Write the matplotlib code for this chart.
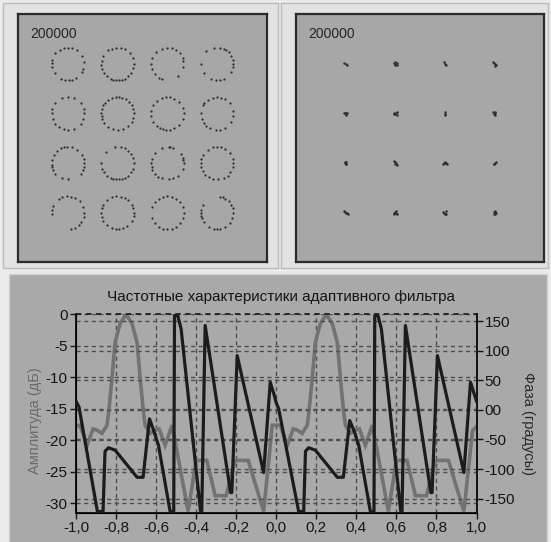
import matplotlib
matplotlib.use("Agg")
import matplotlib.pyplot as plt
from matplotlib.patches import Rectangle
import numpy as np

W, H, DPI = 551, 542, 100

# ------------------------------------------------------------------ data
panel_label = "200000"
ring_centers_x = [-3, -1, 1, 3]
ring_centers_y = [3, 1, -1, -3]
ring_radius = 0.66
# angles (deg) of dots on each ring, row by row (top row first)
ring_angles = [
    [5, 30, 55, 75, 90, 105, 120, 140, 165, 178, 190, 215, 245, 258, 272, 285, 300, 330, 340],
    [0, 20, 40, 62, 80, 95, 110, 125, 150, 170, 185, 200, 215, 230, 245, 255, 265, 275, 285, 295, 310, 325, 345],
    [10, 20, 40, 60, 75, 90, 110, 135, 160, 180, 200, 220, 240, 250, 310, 350],
    [0, 15, 30, 45, 55, 65, 80, 100, 130, 180, 215, 250, 265, 280, 295, 330, 350],
    [0, 15, 40, 70, 90, 110, 140, 165, 180, 200, 220, 235, 255, 270, 290, 320, 340],
    [0, 15, 30, 45, 60, 75, 85, 95, 110, 125, 140, 150, 165, 180, 190, 200, 215, 235, 255, 270, 290, 310, 330, 345],
    [0, 20, 45, 65, 80, 95, 110, 130, 150, 170, 190, 210, 230, 245, 255, 265, 280, 295, 315, 340],
    [10, 40, 60, 75, 90, 105, 125, 140, 150, 180, 200, 215, 230, 245, 265, 280, 300, 330, 350],
    [0, 15, 30, 55, 75, 95, 105, 115, 130, 150, 170, 185, 195, 205, 220, 250, 270, 320, 335, 345],
    [0, 20, 35, 50, 65, 80, 100, 135, 180, 200, 215, 230, 245, 255, 265, 275, 285, 295, 310, 325, 340],
    [0, 10, 20, 35, 70, 80, 85, 110, 140, 165, 180, 195, 205, 220, 235, 250, 275, 290, 310, 340],
    [0, 15, 40, 60, 75, 90, 105, 125, 150, 165, 180, 195, 210, 225, 240, 255, 275, 295, 310, 325, 345],
    [0, 20, 45, 65, 80, 95, 110, 125, 155, 170, 185, 280, 295, 310, 325, 345],
    [0, 15, 30, 50, 65, 80, 95, 110, 130, 150, 165, 180, 195, 210, 230, 250, 265, 275, 290, 305, 330, 350],
    [0, 20, 40, 60, 75, 90, 105, 120, 140, 160, 200, 220, 240, 255, 270, 285, 300, 320, 340],
    [0, 15, 30, 45, 60, 70, 80, 150, 170, 180, 190, 200, 215, 240, 260, 270, 280, 300, 320, 340],
]
# small clusters of the converged constellation (offsets from ideal points)
cluster_offsets = [
    [(-0.05, 0.05), (0.03, 0.0), (0.07, -0.05)],
    [(-0.06, 0.02), (0.0, 0.06), (0.05, 0.02), (0.0, -0.03), (0.06, -0.04), (-0.03, -0.02)],
    [(-0.02, 0.06), (0.02, -0.02), (0.04, -0.06)],
    [(-0.06, 0.07), (-0.02, 0.03), (0.03, 0.0), (0.05, -0.05), (0.0, -0.07)],
    [(-0.06, 0.0), (-0.02, 0.02), (0.02, 0.0), (0.05, 0.01), (0.0, -0.05)],
    [(0.05, 0.08), (0.01, 0.04), (-0.04, 0.0), (-0.07, -0.03), (0.0, -0.04), (0.05, -0.05)],
    [(0.0, 0.05), (0.0, -0.04), (0.02, -0.07)],
    [(-0.05, 0.06), (0.03, 0.07), (0.0, 0.02), (-0.02, -0.03), (0.03, -0.06)],
    [(-0.03, 0.06), (0.03, 0.04), (-0.02, 0.0), (0.03, -0.02), (0.0, -0.05)],
    [(-0.06, 0.08), (-0.03, 0.03), (0.02, 0.01), (0.0, -0.04), (0.05, -0.07)],
    [(-0.07, -0.05), (-0.03, 0.02), (0.0, 0.06), (0.03, 0.02), (0.07, -0.05), (0.0, 0.0)],
    [(0.04, 0.06), (0.02, 0.02), (-0.01, -0.02), (-0.04, -0.05)],
    [(-0.08, 0.07), (-0.04, 0.03), (0.0, 0.0), (0.04, -0.03), (0.08, -0.06)],
    [(0.02, 0.08), (0.0, 0.03), (-0.04, -0.02), (0.02, -0.02), (-0.06, -0.06), (0.05, -0.05)],
    [(-0.06, 0.02), (-0.02, 0.0), (0.03, 0.05), (0.02, -0.05), (0.05, -0.07)],
    [(-0.04, 0.04), (0.02, 0.05), (0.0, 0.0), (0.04, -0.02), (-0.03, -0.04), (0.03, -0.06)],
]

title = "Частотные характеристики адаптивного фильтра"
amp_label = "Амплитуда (дБ)"
phase_label = "Фаза (градусы)"

freq_amp = [-1.000, -0.980, -0.945, -0.915, -0.895, -0.870, -0.845, -0.835, -0.820, -0.805,
            -0.780, -0.750, -0.720, -0.695, -0.680, -0.665, -0.655, -0.630, -0.605, -0.585,
            -0.555, -0.520, -0.440, -0.400, -0.347, -0.305, -0.250, -0.205, -0.140, -0.063,
            -0.020, 0.020, 0.055, 0.085, 0.105, 0.130, 0.155, 0.165, 0.180, 0.195,
            0.220, 0.250, 0.280, 0.305, 0.320, 0.335, 0.345, 0.370, 0.395, 0.415,
            0.445, 0.480, 0.560, 0.600, 0.653, 0.695, 0.750, 0.795, 0.860, 0.937,
            0.980, 1.000]
amp_db = [-17.8, -17.6, -20.8, -18.2, -18.4, -18.9, -17.6, -15.0, -10.0, -4.5,
          -1.5, 0.0, -1.5, -4.5, -10.0, -15.0, -17.6, -18.9, -18.4, -18.2,
          -20.8, -17.6, -31.3, -23.2, -23.2, -28.8, -28.8, -23.2, -23.2, -31.3,
          -17.6, -17.6, -20.8, -18.2, -18.4, -18.9, -17.6, -15.0, -10.0, -4.5,
          -1.5, 0.0, -1.5, -4.5, -10.0, -15.0, -17.6, -18.9, -18.4, -18.2,
          -20.8, -17.6, -31.3, -23.2, -23.2, -28.8, -28.8, -23.2, -23.2, -31.3,
          -18.5, -17.8]

freq_phase = [-1.000, -0.985, -0.893, -0.865, -0.855, -0.838, -0.805, -0.695, -0.665, -0.633,
              -0.612, -0.588, -0.530, -0.512, -0.508, -0.492, -0.475, -0.378, -0.372, -0.355,
              -0.228, -0.222, -0.195, -0.063, -0.030, -0.010,
              0.000, 0.012, 0.112, 0.137, 0.146, 0.162, 0.195, 0.305, 0.335, 0.367,
              0.388, 0.412, 0.470, 0.488, 0.492, 0.508, 0.525, 0.622, 0.628, 0.645,
              0.772, 0.778, 0.805, 0.937, 0.970, 1.000]
phase_deg = [15, 5, -172, -172, -70, -64, -68, -114, -114, -15,
             -35, -60, -172, -172, 160, 160, 137, -172, -172, 143,
             -140, -140, 92, -106, 47, 25,
             12, 2, -172, -172, -70, -64, -68, -114, -114, -18,
             -35, -60, -172, -172, 160, 160, 137, -172, -172, 143,
             -140, -140, 92, -106, 47, 15]

x_ticks = [-1.0, -0.8, -0.6, -0.4, -0.2, 0.0, 0.2, 0.4, 0.6, 0.8, 1.0]
x_tick_labels = ["-1,0", "-0,8", "-0,6", "-0,4", "-0,2", "0,0", "0,2", "0,4", "0,6", "0,8", "1,0"]
amp_ticks = [0, -5, -10, -15, -20, -25, -30]
amp_tick_labels = ["0", "-5", "-10", "-15", "-20", "-25", "-30"]
phase_ticks = [150, 100, 50, 0, -50, -100, -150]
phase_tick_labels = ["150", "100", "50", "00", "-50", "-100", "-150"]

# ------------------------------------------------------------------ style
FONT = ["Liberation Sans", "DejaVu Sans"]
plt.rcParams['font.family'] = FONT
LIGHT = "#e3e3e3"
PLOTBG = "#a7a7a7"
DOT = "#2e2e2e"
GRAY_LINE = "#727272"
DARK_LINE = "#1c1c1c"
TXT = "#151515"

fig = plt.figure(figsize=(W / DPI, H / DPI), dpi=DPI, facecolor="#ebebeb")


def px_rect(x0, y0, x1, y1, **kw):
    r = Rectangle((x0 / W, 1 - y1 / H), (x1 - x0) / W, (y1 - y0) / H,
                  transform=fig.transFigure, **kw)
    fig.add_artist(r)
    return r


def px_axes(x0, y0, x1, y1):
    return fig.add_axes([x0 / W, 1 - y1 / H, (x1 - x0) / W, (y1 - y0) / H])


# panel frames
px_rect(3, 3, 278, 267.5, facecolor=LIGHT, edgecolor="#bcbcbc", lw=1.0, zorder=0)
px_rect(281.5, 3, 548, 267.5, facecolor=LIGHT, edgecolor="#bcbcbc", lw=1.0, zorder=0)
px_rect(9, 274, 547, 545, facecolor="#a9a9a9", edgecolor="#d0d0d0", lw=1.0, zorder=0)


def constellation_axes(x0, x1):
    ax = px_axes(x0, 14.3, x1, 262.3)
    ax.set_facecolor(PLOTBG)
    ax.set_xlim(-5, 5)
    ax.set_ylim(-5, 5)
    ax.set_xticks([])
    ax.set_yticks([])
    for s in ax.spines.values():
        s.set_color("#2a2a2a")
        s.set_linewidth(1.6)
    ax.text(0.05, 0.95, panel_label, transform=ax.transAxes, ha="left", va="top",
            fontsize=10, color="#262626")
    return ax


# ---- top-left: rings
ax1 = constellation_axes(18.3, 266.7)
k = 0
for cy in ring_centers_y:
    for cx in ring_centers_x:
        a = np.deg2rad(np.array(ring_angles[k], dtype=float))
        ax1.scatter(cx + ring_radius * np.cos(a), cy + ring_radius * np.sin(a),
                    s=2.6, c=DOT, linewidths=0)
        k += 1

# ---- top-right: clusters
ax2 = constellation_axes(296, 544.3)
k = 0
for cy in ring_centers_y:
    for cx in ring_centers_x:
        off = np.array(cluster_offsets[k])
        ax2.scatter(cx + off[:, 0], cy + off[:, 1], s=3.2, c=DOT, linewidths=0)
        k += 1

# ---- bottom: frequency response
ax3 = px_axes(76, 314.3, 476.5, 512.7)
ax3.set_facecolor("#a9a9a9")
ax3.set_xlim(-1.0, 1.0)
ax3.set_ylim(-31.5, 0)
ax3.plot(freq_amp, amp_db, color=GRAY_LINE, lw=2.6, solid_joinstyle="miter", zorder=3)
ax3.set_xticks(x_ticks)
ax3.set_xticklabels(x_tick_labels)
ax3.set_yticks(amp_ticks)
ax3.set_yticklabels(amp_tick_labels)
ax3.tick_params(axis="both", labelsize=11, colors=TXT, length=4, width=1, pad=2)
grid_kw = dict(color="#4e4e4e", lw=1.0, ls=(0, (3, 2.5)))
for xv in x_ticks[1:-1]:
    ax3.axvline(xv, zorder=1, **grid_kw)
for yv in amp_ticks:
    ax3.axhline(yv, zorder=1, **grid_kw)
ax3.axhline(0, color="#202020", lw=1.3, ls=(0, (3, 2.5)), zorder=4, clip_on=False)
ax3.spines["top"].set_visible(False)
for side in ("left", "bottom", "right"):
    ax3.spines[side].set_color("#151515")
    ax3.spines[side].set_linewidth(1.4)

ax4 = ax3.twinx()
ax4.set_ylim(-174, 162)
ax4.plot(freq_phase, phase_deg, color=DARK_LINE, lw=2.3, zorder=3)
ax4.set_yticks(phase_ticks)
ax4.set_yticklabels(phase_tick_labels)
ax4.tick_params(axis="y", labelsize=11, colors=TXT, length=4, width=1, pad=2)
for yv in phase_ticks:
    ax4.axhline(yv, zorder=1, **grid_kw)
ax4.spines["top"].set_visible(False)
ax4.spines["right"].set_color("#151515")
ax4.spines["right"].set_linewidth(1.4)

fig.text(281 / W, 1 - 297 / H, title, ha="center", va="center", fontsize=11, color=TXT)
fig.text(35 / W, 1 - 421 / H, amp_label, ha="center", va="center", rotation=90,
         fontsize=10.5, color="#6a6a6a")
fig.text(528 / W, 1 - 423 / H, phase_label, ha="center", va="center", rotation=-90,
         fontsize=10.5, color="#2a2a2a")

fig.savefig("out.png", dpi=DPI, facecolor=fig.get_facecolor())
